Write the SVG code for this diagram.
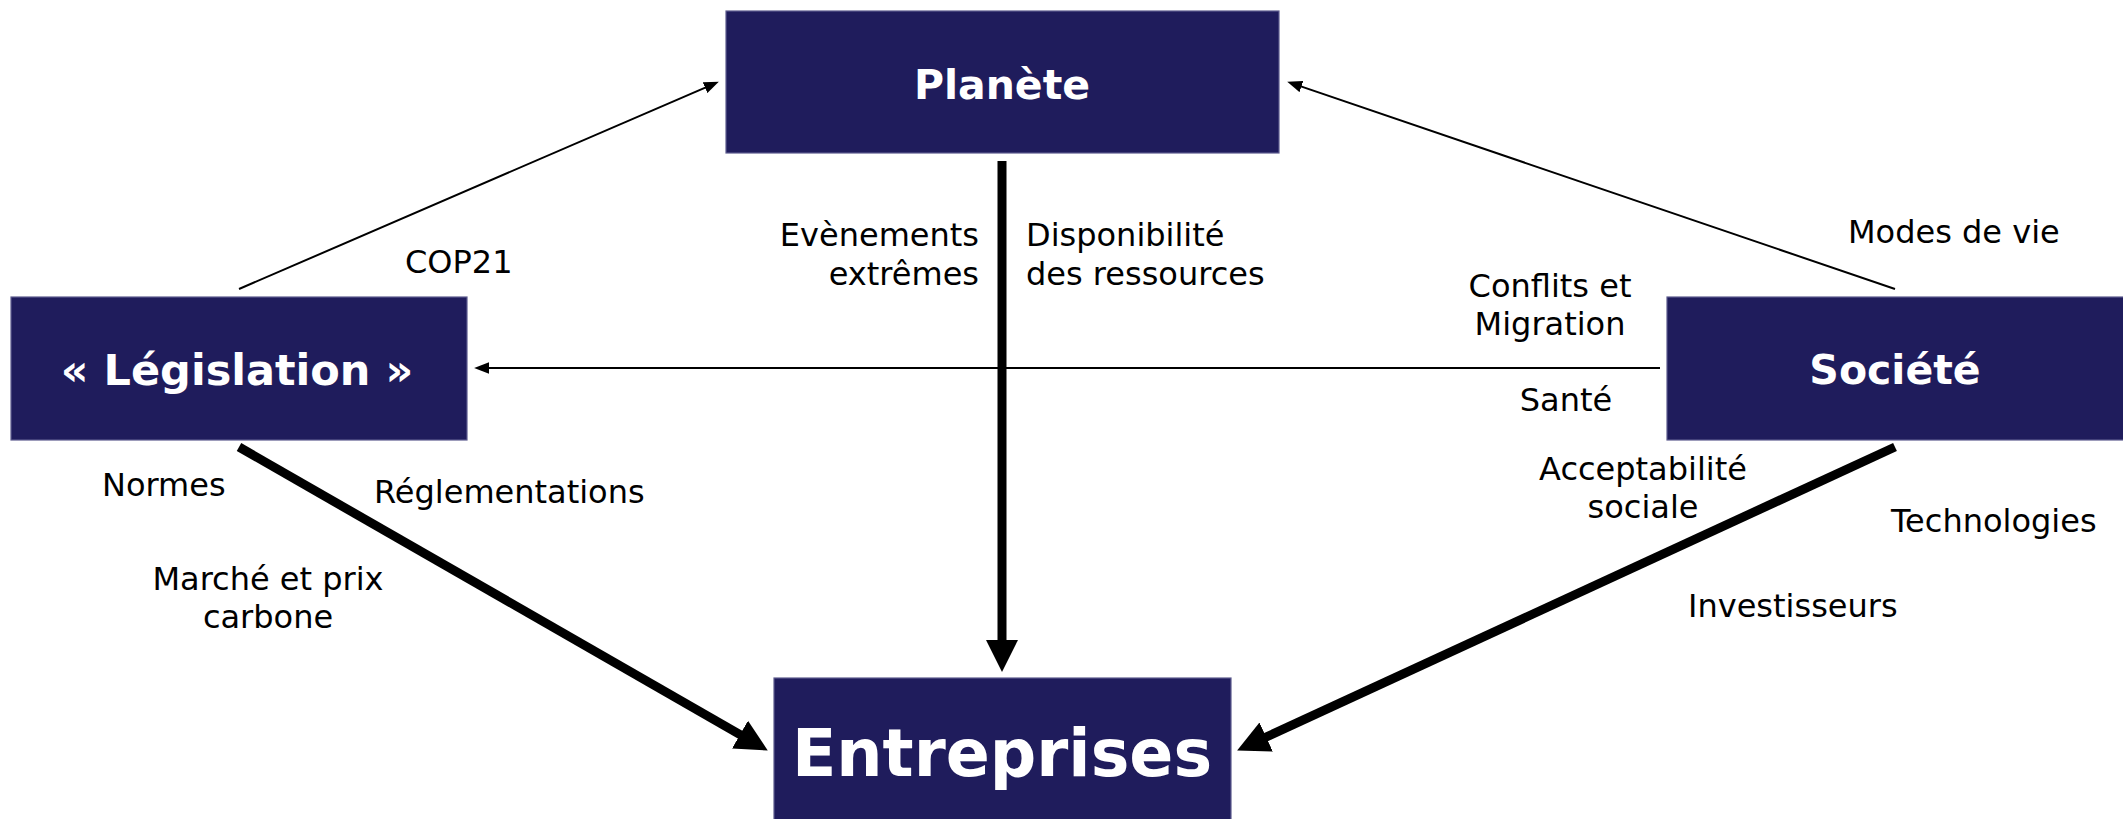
<svg xmlns="http://www.w3.org/2000/svg" width="2123" height="819" viewBox="0 0 2123 819">
<style>
.box{fill:#1f1c5c;stroke:#5d5b8e;stroke-width:1.2}
.title{font-family:"DejaVu Sans",Verdana,sans-serif;font-weight:bold;fill:#ffffff;text-anchor:middle}
.lbl{font-family:"DejaVu Sans",Verdana,sans-serif;font-size:32px;fill:#000000}
.thin{stroke:#000;stroke-width:2;fill:none}
.thick{stroke:#000;stroke-width:9;fill:none}
</style>
<defs>
<marker id="headBig" markerUnits="userSpaceOnUse" markerWidth="32" markerHeight="32" refX="2" refY="15.5" orient="auto" viewBox="0 0 31 31">
<path d="M0,0 L31,15.5 L0,31 Z" fill="#000"/>
</marker>
<marker id="headSmall" markerUnits="userSpaceOnUse" markerWidth="15" markerHeight="12" refX="2" refY="5.5" orient="auto" viewBox="0 0 14 11">
<path d="M0,0 L14,5.5 L0,11 Z" fill="#000"/>
</marker>
</defs>

<g id="connectors">
<line class="thin" x1="239" y1="289" x2="707" y2="86.8" marker-end="url(#headSmall)"/>
<line class="thin" x1="1895" y1="289" x2="1299.4" y2="85.9" marker-end="url(#headSmall)"/>
<line class="thin" x1="1660" y1="368" x2="487" y2="368" marker-end="url(#headSmall)"/>
<line class="thick" x1="1002" y1="161" x2="1002" y2="642" marker-end="url(#headBig)"/>
<line class="thick" x1="239" y1="447" x2="741.8" y2="735.6" marker-end="url(#headBig)"/>
<line class="thick" x1="1895" y1="447" x2="1264.3" y2="737.9" marker-end="url(#headBig)"/>
</g>

<g id="node-planete">
<rect class="box" x="726" y="11" width="553" height="142"/>
<text class="title" x="1002" y="99" font-size="41">Planète</text>
</g>
<g id="node-legislation">
<rect class="box" x="11" y="297" width="456" height="143"/>
<text class="title" x="237" y="385" font-size="43">« Législation »</text>
</g>
<g id="node-societe">
<rect class="box" x="1667" y="297" width="460" height="143"/>
<text class="title" x="1895" y="384" font-size="41">Société</text>
</g>
<g id="node-entreprises">
<rect class="box" x="774" y="678" width="457" height="145"/>
<text class="title" x="1002" y="776" font-size="65">Entreprises</text>
</g>

<g id="labels">
<text class="lbl" x="405" y="273">COP21</text>
<text class="lbl" x="979" y="246" text-anchor="end">Evènements</text>
<text class="lbl" x="979" y="285" text-anchor="end">extrêmes</text>
<text class="lbl" x="1026" y="246">Disponibilité</text>
<text class="lbl" x="1026" y="285">des ressources</text>
<text class="lbl" x="1848" y="243">Modes de vie</text>
<text class="lbl" x="1550" y="297" text-anchor="middle">Conflits et</text>
<text class="lbl" x="1550" y="335" text-anchor="middle">Migration</text>
<text class="lbl" x="1566" y="411" text-anchor="middle">Santé</text>
<text class="lbl" x="1643" y="480" text-anchor="middle">Acceptabilité</text>
<text class="lbl" x="1643" y="518" text-anchor="middle">sociale</text>
<text class="lbl" x="1891" y="532">Technologies</text>
<text class="lbl" x="1688" y="617">Investisseurs</text>
<text class="lbl" x="102" y="496">Normes</text>
<text class="lbl" x="374" y="503">Réglementations</text>
<text class="lbl" x="268" y="590" text-anchor="middle">Marché et prix</text>
<text class="lbl" x="268" y="628" text-anchor="middle">carbone</text>
</g>
</svg>
